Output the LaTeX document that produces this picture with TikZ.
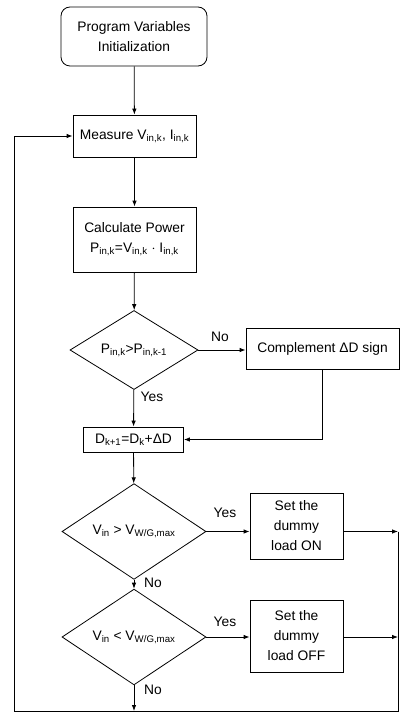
\documentclass[tikz,border=0pt]{standalone}
\usepackage{fontspec}
\setmainfont{Liberation Sans}
\usetikzlibrary{shapes.geometric,arrows.meta}
\newcommand{\sbx}[1]{\textsubscript{#1}}
\begin{document}
\begin{tikzpicture}[x=1pt,y=-1pt,
  font=\fontsize{13.8pt}{20pt}\selectfont,
  every node/.style={inner sep=0pt},
  boxx/.style={draw,line width=0.8pt,align=center},
  dia/.style={draw,line width=0.8pt,shape=diamond,align=center},
  arr/.style={line width=0.8pt,-{Latex[length=6pt,width=4.5pt]}},
  ln/.style={line width=0.8pt},
  lbl/.style={font=\fontsize{13.8pt}{16pt}\selectfont}]
\useasboundingbox (0,0) rectangle (401,714);
\node[boxx,rounded corners=9pt,minimum width=146pt,minimum height=59pt] (start) at (134,36.5) {Program Variables\\Initialization};
\node[boxx,minimum width=123pt,minimum height=42pt] (meas) at (134.5,136) {Measure V\sbx{in,k}, I\sbx{in,k}};
\node[boxx,minimum width=123pt,minimum height=65pt] (calc) at (134.5,239.5) {Calculate Power\\P\sbx{in,k}=V\sbx{in,k} $\cdot$ I\sbx{in,k}};
\node[dia,minimum width=128pt,minimum height=48pt] (d1) at (134,350) {P\sbx{in,k}>P\sbx{in,k-1}};
\node[boxx,minimum width=153pt,minimum height=41pt] (comp) at (322.5,348.5) {Complement ΔD sign};
\node[boxx,minimum width=100pt,minimum height=25pt] (dbox) at (133.5,439.5) {D\sbx{k+1}=D\sbx{k}+ΔD};
\node[dia,minimum width=144pt,minimum height=59pt] (d2) at (134,531.5) {V\sbx{in} > V\sbx{W/G,max}};
\node[boxx,minimum width=93pt,minimum height=66pt] (on) at (296.5,526) {Set the\\dummy\\load ON};
\node[dia,minimum width=144pt,minimum height=60pt] (d3) at (134,637) {V\sbx{in} < V\sbx{W/G,max}};
\node[boxx,minimum width=93pt,minimum height=72pt] (off) at (296.5,636) {Set the\\dummy\\load OFF};
\coordinate (r1) at (398,531.5);
\coordinate (r2) at (398,637);
\coordinate (rb) at (398,711);
\coordinate (lb) at (14,711);
\draw[arr] (start) -- (meas);
\draw[arr] (meas) -- (calc);
\draw[arr] (calc) -- (d1);
\draw[arr] (d1.east) -- (comp.west |- d1.east);
\draw[arr] (d1) -- (dbox);
\draw[arr] (comp.south) |- (dbox.east);
\draw[arr] (dbox) -- (d2);
\draw[arr] (d2.east) -- (on.west |- d2.east);
\draw[arr] (on.east |- r1) -- (r1);
\draw[arr] (d2) -- (d3);
\draw[arr] (d3.east) -- (off.west |- d3.east);
\draw[arr] (off.east |- r2) -- (r2);
\draw[arr] (d3.south) -- (d3.south |- rb);
\draw[ln] (r1) -- (rb) -- (lb);
\draw[arr] (lb) |- (meas.west);
\node[lbl] (no1) at (220,337) {No};
\node[lbl] (yes1) at (152,397) {Yes};
\node[lbl] (yes2) at (225,513) {Yes};
\node[lbl] (no2) at (153,583) {No};
\node[lbl] (yes3) at (225,622) {Yes};
\node[lbl] (no3) at (153,690) {No};
\end{tikzpicture}
\end{document}
